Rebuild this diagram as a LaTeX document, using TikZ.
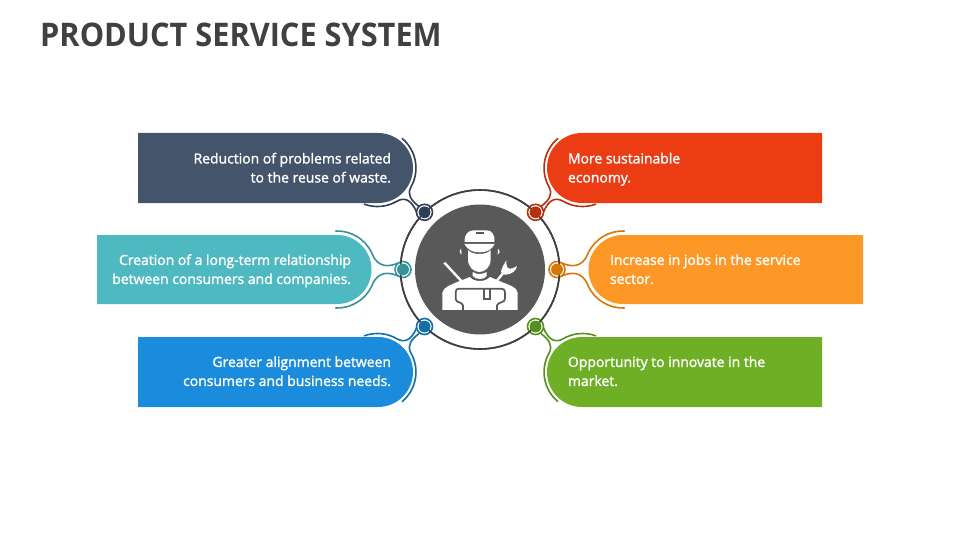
\documentclass[tikz,border=0pt]{standalone}
\usepackage{fontspec}
\setmainfont{Open Sans}
\newfontfamily\sbfont[FakeBold=1.6]{Open Sans}
\definecolor{navy}{HTML}{44546A}\definecolor{navyd}{HTML}{2F3F57}
\definecolor{teal1}{HTML}{4FB9C2}\definecolor{teald}{HTML}{37929B}
\definecolor{blue1}{HTML}{1A8CDB}\definecolor{blued}{HTML}{126FA8}
\definecolor{red1}{HTML}{EC3C14}\definecolor{redd}{HTML}{B7300F}
\definecolor{orange1}{HTML}{FD9827}\definecolor{oranged}{HTML}{D9760A}
\definecolor{green1}{HTML}{6FAF26}\definecolor{greend}{HTML}{558F1E}
\definecolor{ink}{HTML}{404040}\definecolor{disc}{HTML}{595959}
\tikzset{
  x=1pt,y=-1pt,
  label text/.style={text=white,font=\sbfont\fontsize{13.95}{19}\selectfont,inner sep=0pt,outer sep=0pt,execute at begin node=\strut,execute at end node=\strut},
  ltext/.style={label text,align=right,anchor=east},
  rtext/.style={label text,align=left,anchor=west},
  arm/.style={line width=1.6pt,line cap=round},
  knob/.style={circle,minimum size=11.5pt,inner sep=0pt,outer sep=0pt},
  ringc/.style={circle,minimum size=16pt,inner sep=0pt,draw,line width=1.6pt,fill=white},
}
% corner tag: drawn in the top-left position
\newcommand{\cornertag}[4]{%
  \begin{scope}[#1]
  \fill[#2] (138,133) -- (378,133) arc[start angle=-90,end angle=90,radius=35] -- (138,203) -- cycle;
  \draw[arm,#3] (402.2,138.5) arc[start angle=-50,end angle=30,radius=38.5] .. controls (407,195) and (411,200) .. (419,206.5);
  \draw[arm,#3] (364.3,204.2) arc[start angle=110,end angle=60,radius=38.5] .. controls (404,197) and (411,199) .. (416.5,212);
  \node[ringc,draw=#3] (ring#2) at (424.5,#4) {};
  \node[knob,fill=#3] (dot#2) at (424.5,#4) {};
  \end{scope}}
\newcommand{\sidetag}[3]{%
  \begin{scope}[#1]
  \fill[#2] (97,235) -- (337,235) arc[start angle=-90,end angle=90,radius=34.5] -- (97,304) -- cycle;
  \draw[arm,#3] (335.7,231) arc[start angle=-92,end angle=-25,radius=38.5] .. controls (375,262) and (383,270) .. (398,263);
  \draw[arm,#3] (335.7,308) arc[start angle=92,end angle=25,radius=38.5] .. controls (375,277) and (383,269) .. (398,276);
  \node[ringc,draw=#3] (ring#2) at (403,269.5) {};
  \node[knob,fill=#3] (dot#2) at (403,269.5) {};
  \end{scope}}
\begin{document}
\begin{tikzpicture}
\useasboundingbox (0,0) rectangle (960,540);
\node[anchor=west,inner sep=0pt,text=ink,font=\fontsize{32.5}{36}\selectfont\bfseries] (title) at (40,34.5) {\scalebox{0.945}[1]{PRODUCT SERVICE SYSTEM}};
% central disc
\node[circle,draw=ink,line width=1.6pt,minimum size=159pt,inner sep=0pt] (outer) at (480,269.5) {};
\node[circle,fill=disc,minimum size=130pt,inner sep=0pt] (disc) at (480,269.5) {};
% tags
\cornertag{}{navy}{navyd}{212.3}
\cornertag{shift={(0,540)},yscale=-1}{blue1}{blued}{213.5}
\cornertag{shift={(960,0)},xscale=-1}{red1}{redd}{212.3}
\cornertag{shift={(960,540)},xscale=-1,yscale=-1}{green1}{greend}{213.5}
\sidetag{}{teal1}{teald}
\sidetag{shift={(960,0)},xscale=-1}{orange1}{oranged}
% outer ring passes over the small rings
\draw[ink,line width=1.6pt] (outer.center) circle[radius=79.5];
\foreach \c/\k in {navy/navyd,blue1/blued,red1/redd,green1/greend,teal1/teald,orange1/oranged}
  \node[knob,fill=\k] at (dot\c) {};
% icon, in zoomed coordinates
\begin{scope}[shift={(435,222)},x=0.3333pt,y=-0.3333pt]
  % cap
  \fill[white] (89,60) .. controls (87,38) and (100,25) .. (115,25) -- (155,25) .. controls (170,25) and (181,38) .. (178,60) -- cycle;
  \fill[disc] (122,31) rectangle (146,36);
  \fill[white] (88,66) -- (179,66) .. controls (170,84) and (155,91) .. (134,91) .. controls (112,91) and (98,84) .. (88,66) -- cycle;
  % face
  \fill[white] (99,84) .. controls (112,100) and (155,100) .. (167,84) -- (167,112) .. controls (167,135) and (150,150) .. (133,150) .. controls (116,150) and (99,135) .. (99,112) -- cycle;
  % ears
  \fill[white] (78,80) .. controls (72,85) and (72,92) .. (80,97) -- cycle;
  \fill[white] (189,80) .. controls (196,85) and (196,92) .. (188,97) -- cycle;
  % neck
  \fill[white] (113,150) .. controls (125,158) and (142,158) .. (155,150) -- (155,162) .. controls (148,174) and (122,174) .. (113,162) -- cycle;
  % body
  \fill[white] (22,264) -- (22,212) .. controls (26,195) and (45,190) .. (62,182) -- (105,165) .. controls (115,180) and (150,182) .. (165,165) -- (205,182) .. controls (225,190) and (245,195) .. (248,212) -- (248,264) -- cycle;
  % bib outline
  \draw[disc,line width=1.7pt] (84,264) -- (84,250) .. controls (80,238) and (62,244) .. (62,230) -- (62,210) .. controls (62,203) and (66,200) .. (72,200) -- (198,200) .. controls (206,200) and (210,203) .. (210,210) -- (210,230) .. controls (210,244) and (190,238) .. (186,250) -- (186,264);
  \draw[disc,line width=1.5pt] (147,200) -- (147,231) -- (165,231) -- (165,200);
  % screwdriver
  \draw[white,line width=2.4pt] (28,122) -- (80,178);
  % wrench
  \draw[white,line width=2.4pt] (186,176) -- (212,144);
  \fill[white] (198,150) .. controls (200,138) and (206,128) .. (214,115) .. controls (216,125) and (212,132) .. (218,138) .. controls (226,143) and (236,138) .. (246,132) .. controls (244,145) and (232,158) .. (208,158) -- cycle;
\end{scope}
% labels
\node[ltext] (t1) at (391,170.5) {Reduction of problems related\\to the reuse of waste.};
\node[ltext] (t2) at (351,272) {Creation of a long-term relationship\\between consumers and companies.};
\node[ltext] (t3) at (391,374) {Greater alignment between\\consumers and business needs.};
\node[rtext] (t4) at (568,170.5) {More sustainable\\economy.};
\node[rtext] (t5) at (610,272) {Increase in jobs in the service\\sector.};
\node[rtext] (t6) at (568,374) {Opportunity to innovate in the\\market.};
\end{tikzpicture}
\end{document}
